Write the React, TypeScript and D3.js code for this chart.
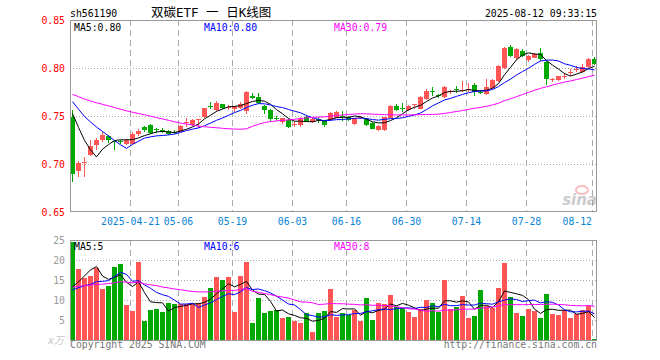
import * as d3 from "d3";

// trading days shown (2025)
const dates = [
  "04-07", "04-08", "04-09", "04-10", "04-11", "04-14", "04-15", "04-16", "04-17", "04-18",
  "04-21", "04-22", "04-23", "04-24", "04-25", "04-28", "04-29", "04-30",
  "05-06", "05-07", "05-08", "05-09", "05-12", "05-13", "05-14", "05-15", "05-16",
  "05-19", "05-20", "05-21", "05-22", "05-23", "05-26", "05-27", "05-28", "05-29", "05-30",
  "06-03", "06-04", "06-05", "06-06", "06-09", "06-10", "06-11", "06-12", "06-13",
  "06-16", "06-17", "06-18", "06-19", "06-20", "06-23", "06-24", "06-25", "06-26", "06-27", "06-30",
  "07-01", "07-02", "07-03", "07-04", "07-07", "07-08", "07-09", "07-10", "07-11",
  "07-14", "07-15", "07-16", "07-17", "07-18", "07-21", "07-22", "07-23", "07-24", "07-25",
  "07-28", "07-29", "07-30", "07-31", "08-01", "08-04", "08-05", "08-06", "08-07", "08-08",
  "08-11", "08-12",
];

const opens = [
  0.749, 0.693, 0.701, 0.709, 0.720, 0.725, 0.729, 0.724, 0.724, 0.721,
  0.721, 0.731, 0.739, 0.741, 0.736, 0.735, 0.734, 0.733,
  0.733, 0.743, 0.741, 0.746, 0.749, 0.760, 0.756, 0.762, 0.758,
  0.757, 0.758, 0.755, 0.771, 0.770, 0.760, 0.756, 0.748, 0.744, 0.746,
  0.741, 0.741, 0.749, 0.744, 0.747, 0.745, 0.746, 0.748, 0.750,
  0.749, 0.742, 0.748, 0.747, 0.743, 0.735, 0.735, 0.748, 0.760, 0.758, 0.756,
  0.762, 0.757, 0.768, 0.776, 0.772, 0.770, 0.775, 0.778, 0.776,
  0.777, 0.782, 0.775, 0.773, 0.779, 0.786, 0.800, 0.822, 0.810, 0.818,
  0.808, 0.810, 0.816, 0.806, 0.787, 0.787, 0.791, 0.795, 0.798, 0.796,
  0.801, 0.809,
];
const highs = [
  0.756, 0.703, 0.707, 0.725, 0.727, 0.733, 0.730, 0.725, 0.725, 0.726,
  0.733, 0.736, 0.740, 0.742, 0.738, 0.737, 0.735, 0.735,
  0.741, 0.748, 0.747, 0.747, 0.758, 0.765, 0.766, 0.763, 0.761,
  0.760, 0.765, 0.776, 0.774, 0.774, 0.761, 0.757, 0.750, 0.748, 0.747,
  0.745, 0.749, 0.751, 0.748, 0.749, 0.746, 0.754, 0.755, 0.755,
  0.750, 0.748, 0.750, 0.748, 0.744, 0.741, 0.749, 0.761, 0.762, 0.764, 0.761,
  0.763, 0.771, 0.778, 0.780, 0.773, 0.781, 0.777, 0.781, 0.786,
  0.784, 0.784, 0.777, 0.789, 0.789, 0.803, 0.822, 0.824, 0.821, 0.820,
  0.814, 0.816, 0.821, 0.807, 0.790, 0.792, 0.795, 0.799, 0.802, 0.804,
  0.810, 0.811,
];
const lows = [
  0.681, 0.686, 0.686, 0.708, 0.715, 0.723, 0.722, 0.715, 0.721, 0.720,
  0.720, 0.729, 0.733, 0.731, 0.732, 0.732, 0.730, 0.731,
  0.733, 0.739, 0.740, 0.737, 0.748, 0.757, 0.755, 0.757, 0.756,
  0.754, 0.757, 0.752, 0.768, 0.762, 0.752, 0.745, 0.745, 0.742, 0.738,
  0.739, 0.739, 0.744, 0.743, 0.743, 0.739, 0.745, 0.748, 0.745,
  0.745, 0.741, 0.747, 0.740, 0.736, 0.734, 0.734, 0.748, 0.755, 0.754, 0.755,
  0.757, 0.757, 0.767, 0.771, 0.769, 0.769, 0.773, 0.774, 0.775,
  0.775, 0.771, 0.773, 0.772, 0.778, 0.785, 0.799, 0.811, 0.808, 0.811,
  0.806, 0.810, 0.807, 0.782, 0.785, 0.786, 0.789, 0.792, 0.796, 0.795,
  0.800, 0.803,
];
const closes = [
  0.690, 0.701, 0.702, 0.719, 0.725, 0.730, 0.725, 0.723, 0.723, 0.725,
  0.731, 0.734, 0.735, 0.732, 0.735, 0.734, 0.731, 0.732,
  0.740, 0.744, 0.746, 0.747, 0.758, 0.759, 0.764, 0.758, 0.759,
  0.760, 0.763, 0.775, 0.769, 0.764, 0.756, 0.747, 0.747, 0.748, 0.739,
  0.742, 0.747, 0.745, 0.747, 0.746, 0.741, 0.753, 0.754, 0.749,
  0.746, 0.748, 0.749, 0.741, 0.736, 0.740, 0.749, 0.760, 0.756, 0.757, 0.760,
  0.7625, 0.770, 0.776, 0.775, 0.771, 0.780, 0.776, 0.777, 0.777,
  0.778, 0.775, 0.774, 0.780, 0.788, 0.802, 0.821, 0.812, 0.820, 0.813,
  0.813, 0.815, 0.809, 0.789, 0.789, 0.792, 0.792, 0.796, 0.799, 0.801,
  0.809, 0.804,
];
// 成交量 (万)
const volumes = [
  24.6, 17.75, 15.5, 16, 18, 12.75, 13.5, 18.25, 19, 8.75,
  7.25, 19.5, 4.75, 7.5, 7.75, 7, 9.25, 9,
  9, 9, 9, 9.25, 10.75, 13, 15.75, 15, 15.75,
  7, 16, 19.5, 4.25, 10.5, 6.75, 7.25, 7.5, 5.5, 5.75,
  4.75, 4.25, 6.75, 2, 6.75, 7.25, 12.75, 5.75, 6.75,
  6.25, 7.5, 4.75, 10.5, 5, 9.25, 9, 11.25, 8.25, 8, 7,
  5.75, 7.75, 10, 9.25, 7, 15, 7.75, 8.25, 11,
  5.5, 6, 12.5, 8.5, 8, 13, 19.25, 10.75, 6.75, 6,
  7.75, 7.25, 5.5, 11.5, 6.5, 6.25, 7.5, 5.5, 6.5, 7.5,
  8.5, 0.25,
];
// sessions before 04-07, only feeding the moving averages
const priorCloses = [
  0.778, 0.776, 0.779, 0.781, 0.777, 0.775, 0.773, 0.776, 0.778, 0.774,
  0.772, 0.775, 0.777, 0.779, 0.776, 0.774, 0.777, 0.779, 0.776, 0.778,
  0.780, 0.778, 0.776, 0.778, 0.776, 0.772, 0.770, 0.768, 0.762,
];
const priorVolumes = [
  10.5, 12, 11, 13.5, 10, 9.5, 12.5, 11, 12, 12,
  14, 17.5, 16, 13, 18, 15.5, 17, 14.5, 16, 15.5,
  12, 10.5, 13, 11, 12, 11.75, 8, 8.5, 13.75,
];

const tickDates = ["04-21", "05-06", "05-19", "06-03", "06-16", "06-30", "07-14", "07-28", "08-12"];
const tickLabels = ["2025-04-21", "05-06", "05-19", "06-03", "06-16", "06-30", "07-14", "07-28", "08-12"];
const priceTicks = [0.85, 0.8, 0.75, 0.7, 0.65];
const priceGrid = [0.8, 0.75, 0.7];
const volumeTicks = [25, 20, 15, 10, 5];
const volumeGrid = [20, 15, 10, 5];
const maPeriods = [5, 10, 30];
const maColors = ["#000000", "#0000ff", "#ff00ff"];

const RED = "#ff5555";
const GREEN = "#00a800";
const MONO = "'DejaVu Sans Mono', monospace";

function movingAverage(values: number[], prior: number[], n: number) {
  const all = prior.concat(values);
  const off = prior.length;
  return values.map((_, i) => d3.mean(all.slice(off + i - n + 1, off + i + 1)) as number);
}

export default function App() {
  const left = 70;
  const right = 597;
  const x = d3.scaleLinear().domain([0, dates.length]).range([left, left + 6 * dates.length]);
  const yP = d3.scaleLinear().domain([0.65, 0.85]).range([212, 20]);
  const yV = d3.scaleLinear().domain([0, 25]).range([340, 240]);
  const cx = (i: number) => x(i) + 2.5;

  const priceMA = maPeriods.map((n) => movingAverage(closes, priorCloses, n));
  const volMA = maPeriods.map((n) => movingAverage(volumes, priorVolumes, n));

  const priceLine = d3.line<number>().x((_, i) => cx(i)).y((d) => yP(d));
  const volLine = d3.line<number>().x((_, i) => cx(i)).y((d) => yV(d));

  const last = dates.length - 1;
  const gridX = tickDates.map((d) => Math.round(x(dates.indexOf(d))) + 0.5);

  return (
    <svg width={660} height={360} style={{ display: "block", position: "absolute", left: 0, top: 0, background: "#fff" }}>
      <rect x={0} y={0} width={660} height={360} fill="#fff" />
      {/* header */}
      <text x={70} y={16.5} fontFamily={MONO} fontSize={9.8} fill="#000">sh561190</text>
      <text x={151} y={17} fontSize={12.5} fill="#000" fontFamily="'DejaVu Sans Mono', 'Noto Sans CJK SC', monospace">双碳ETF 一 日K线图</text>
      <text x={597} y={16.5} textAnchor="end" fontFamily={MONO} fontSize={9.8} fill="#000">2025-08-12 09:33:15</text>

      {/* grid */}
      <g stroke="#aaa" strokeWidth={1} shapeRendering="crispEdges">
        {priceGrid.map((v) => (
          <line key={v} x1={left} x2={right} y1={Math.round(yP(v)) + 0.5} y2={Math.round(yP(v)) + 0.5} strokeDasharray="1,2" />
        ))}
        {volumeGrid.map((v) => (
          <line key={v} x1={left} x2={right} y1={Math.round(yV(v)) + 0.5} y2={Math.round(yV(v)) + 0.5} strokeDasharray="1,2" />
        ))}
        {gridX.map((gx, k) => (
          <g key={k}>
            <line x1={gx} x2={gx} y1={20} y2={212} strokeDasharray="6,4" />
            <line x1={gx} x2={gx} y1={240} y2={340} strokeDasharray="6,4" />
          </g>
        ))}
      </g>

      {/* price axis */}
      {priceTicks.map((v) => (
        <text key={v} x={65} y={yP(v) + 4} textAnchor="end" fontFamily={MONO} fontSize={9.8} fill="#ff0000">
          {d3.format(".2f")(v)}
        </text>
      ))}
      {/* date labels */}
      {tickDates.map((d, k) => {
        const w = tickLabels[k].length * 5.9;
        const c = Math.min(gridX[k], 592 - w / 2);
        return (
          <text key={d} x={c} y={225} textAnchor="middle" fontFamily={MONO} fontSize={9.8} fill="#0a84d6">
            {tickLabels[k]}
          </text>
        );
      })}

      {/* watermark */}
      <g opacity={0.5}>
        <ellipse cx={582} cy={190} rx={6} ry={4} fill="none" stroke="#f08080" strokeWidth={2} />
        <text x={597} y={205} textAnchor="end" fontFamily="'DejaVu Sans', sans-serif" fontStyle="italic" fontWeight="bold" fontSize={15} fill="#999">sina</text>
      </g>

      {/* candles */}
      <g shapeRendering="crispEdges">
        {dates.map((d, i) => {
          const up = closes[i] >= opens[i];
          const col = up ? RED : GREEN;
          const top = Math.round(yP(Math.max(opens[i], closes[i])));
          const bot = Math.round(yP(Math.min(opens[i], closes[i])));
          const hy = Math.round(yP(highs[i]));
          const ly = Math.round(yP(lows[i]));
          return (
            <g key={d}>
              <rect x={Math.round(x(i)) + 2} y={hy} width={1} height={Math.max(1, ly - hy)} fill={col} />
              <rect x={Math.round(x(i))} y={top} width={5} height={Math.max(1, bot - top)} fill={col} />
            </g>
          );
        })}
      </g>
      {priceMA.map((m, k) => (
        <path key={k} d={priceLine(m) || ""} fill="none" stroke={maColors[k]} strokeWidth={1} />
      ))}

      {/* volume */}
      <g shapeRendering="crispEdges">
        {volumes.map((v, i) => {
          const col = closes[i] >= opens[i] ? RED : GREEN;
          const ty = Math.round(yV(v));
          return <rect key={i} x={Math.round(x(i))} y={ty} width={5} height={Math.max(1, 340 - ty)} fill={col} />;
        })}
      </g>
      {volMA.map((m, k) => (
        <path key={k} d={volLine(m) || ""} fill="none" stroke={maColors[k]} strokeWidth={1} />
      ))}
      {volumeTicks.map((v) => (
        <text key={v} x={65} y={yV(v) + 4} textAnchor="end" fontFamily={MONO} fontSize={9.8} fill="#999">
          {v}
        </text>
      ))}
      <text x={64} y={344} textAnchor="end" fontFamily="'DejaVu Sans', 'Noto Sans CJK SC', sans-serif" fontStyle="italic" fontSize={10} fill="#c4c4c4">x万</text>

      {/* frames */}
      <rect x={left + 0.5} y={20.5} width={right - left - 1} height={191} fill="none" stroke="#999" shapeRendering="crispEdges" />
      <rect x={left + 0.5} y={240.5} width={right - left - 1} height={100} fill="none" stroke="#999" shapeRendering="crispEdges" />

      {/* MA legends */}
      {maPeriods.map((n, k) => (
        <text key={n} x={[74, 204, 334][k]} y={30.5} fontFamily={MONO} fontSize={9.8} fill={maColors[k]}>
          {`MA${n}:${priceMA[k][last].toFixed(2)}`}
        </text>
      ))}
      {maPeriods.map((n, k) => (
        <text key={n} x={[74, 204, 334][k]} y={249.5} fontFamily={MONO} fontSize={9.8} fill={maColors[k]}>
          {`MA${n}:${Math.floor(volMA[k][last])}`}
        </text>
      ))}

      <text x={70} y={348} fontFamily={MONO} fontSize={9.8} fill="#777">Copyright 2025 SINA.COM</text>
      <text x={597} y={348} textAnchor="end" fontFamily={MONO} fontSize={9.8} fill="#777">http://finance.sina.com.cn</text>
    </svg>
  );
}
